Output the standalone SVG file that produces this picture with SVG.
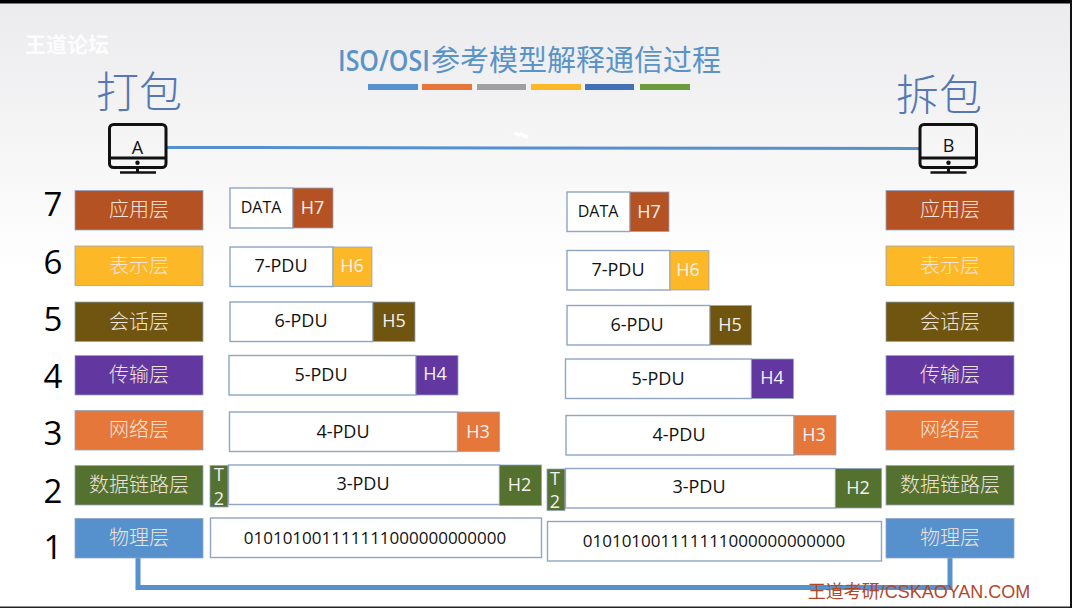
<svg xmlns="http://www.w3.org/2000/svg" width="1072" height="608" viewBox="0 0 1072 608">
<style>
.s{font-family:"Noto Sans CJK SC","Noto Sans",sans-serif}
.o{font-family:"Open Sans","Noto Sans",sans-serif}
.l{font-size:20px;fill:#f0e4d8;text-anchor:middle;font-family:"Noto Sans CJK SC",sans-serif;font-weight:300}
.n{font-size:33px;fill:#000;text-anchor:middle;font-family:"Open Sans",sans-serif}
.b{fill:#fff;stroke:#8ea6c4;stroke-width:1.4}
.t{font-size:18px;fill:#111;text-anchor:middle;font-family:"Open Sans",sans-serif}
.d{font-size:17px;fill:#111;text-anchor:middle;font-family:"Open Sans",sans-serif}
.h{font-size:18px;fill:#f2f2f2;text-anchor:middle;font-family:"Open Sans",sans-serif}
.c{fill:none;stroke:#5691ce}
.m{fill:none;stroke:#111;stroke-width:3}
.a{stroke:#8ea6c4;stroke-width:.8}
.big{font-size:43px;fill:#5578b4;text-anchor:middle;font-family:"Noto Sans CJK SC",serif;font-weight:300}
</style>
<defs><linearGradient id="bg" x1="0" y1="0" x2="0" y2="1"><stop offset="0" stop-color="#ebebed"/><stop offset=".25" stop-color="#f6f6f7"/><stop offset=".45" stop-color="#fff"/><stop offset="1" stop-color="#fff"/></linearGradient></defs>
<rect width="1072" height="608" fill="url(#bg)"/>
<rect width="1072" height="3.500" fill="#000"/>
<rect y="606.500" width="1072" height="1.500" fill="#222"/>
<rect x="1070" width="2" height="608" fill="#111"/>
<g id="watermark"><text x="67" y="52" class="s" font-size="21" fill="#fff" fill-opacity=".85" text-anchor="middle" font-weight="700">王道论坛</text></g>
<g id="title">
<text transform="translate(338 71) scale(1 1.12)" class="o" font-size="25" fill="#5a93c8" font-weight="600">ISO/OSI</text>
<text x="431" y="71" class="s" font-size="29" fill="#5a93c8">参考模型解释通信过程</text>
<rect x="368" y="84" width="50" height="6" fill="#5691ce"/><rect x="422" y="84" width="50" height="6" fill="#e5773a"/><rect x="477" y="84" width="49" height="6" fill="#a0a0a0"/><rect x="531" y="84" width="50" height="6" fill="#fdb827"/><rect x="585" y="84" width="49" height="6" fill="#4371b8"/><rect x="640" y="84" width="50" height="6" fill="#6c9c3c"/>
</g>
<text x="139" y="108" class="big">打包</text>
<text x="939" y="111" class="big">拆包</text>
<g id="connectors">
<path class="c" d="M166 147.500 L920 148.500" stroke-width="3"/>
<path class="c" d="M138 558 V587.500 H950 V558" stroke-width="5"/>
</g>
<path d="M514 132l6 1 1-1 8 4-2 3-7-3-1 1-5-3z" fill="#fff"/>
<g id="hostA"><rect class="m" x="109.500" y="124.500" width="56.500" height="43" rx="4"/><path class="m" d="M109.500 158H166M137.500 168V172" /><path d="M120 172.500H156" fill="none" stroke="#111" stroke-width="2.500"/><circle cx="137.500" cy="162.800" r="2.200" fill="#111"/><text x="137.500" y="154" class="o" font-size="18" fill="#111" text-anchor="middle">A</text></g>
<g id="hostB"><rect class="m" x="920" y="124.500" width="56.500" height="43" rx="4"/><path class="m" d="M920 158H976.500M948.500 168V172"/><path d="M930.500 172.500H966.500" fill="none" stroke="#111" stroke-width="2.500"/><circle cx="948.500" cy="162.800" r="2.200" fill="#111"/><text x="948.500" y="151.500" class="o" font-size="18" fill="#111" text-anchor="middle">B</text></g>
<g id="numbers">
<text x="53" y="216" class="n">7</text><text x="53" y="274" class="n">6</text><text x="53" y="331" class="n">5</text><text x="53" y="388" class="n">4</text><text x="53" y="445" class="n">3</text><text x="53" y="503" class="n">2</text><text x="53" y="559" class="n">1</text>
</g>
<g id="left-stack">
<g id="l7"><rect class="a" x="75" y="190.500" width="128" height="39.500" fill="#b55223"/><text class="l" x="139" y="217">应用层</text></g>
<g id="l6"><rect class="a" x="75" y="246" width="128" height="39.500" fill="#fdb827"/><text class="l" x="139" y="273">表示层</text></g>
<g id="l5"><rect class="a" x="75" y="302" width="128" height="39.500" fill="#6f5510"/><text class="l" x="139" y="329">会话层</text></g>
<g id="l4"><rect class="a" x="75" y="355.500" width="128" height="39.500" fill="#6237a0"/><text class="l" x="139" y="382">传输层</text></g>
<g id="l3"><rect class="a" x="75" y="410.500" width="128" height="39.500" fill="#e5773a"/><text class="l" x="139" y="437">网络层</text></g>
<g id="l2"><rect class="a" x="75" y="465.500" width="128" height="39.500" fill="#55712f"/><text class="l" x="139" y="492">数据链路层</text></g>
<g id="l1"><rect class="a" x="75" y="518.500" width="128" height="39.500" fill="#5691ce"/><text class="l" x="139" y="545">物理层</text></g>
</g>
<g id="right-stack">
<g id="r7"><rect class="a" x="886" y="190.500" width="128" height="39.500" fill="#b55223"/><text class="l" x="950" y="217">应用层</text></g>
<g id="r6"><rect class="a" x="886" y="246" width="128" height="39.500" fill="#fdb827"/><text class="l" x="950" y="273">表示层</text></g>
<g id="r5"><rect class="a" x="886" y="302" width="128" height="39.500" fill="#6f5510"/><text class="l" x="950" y="329">会话层</text></g>
<g id="r4"><rect class="a" x="886" y="355.500" width="128" height="39.500" fill="#6237a0"/><text class="l" x="950" y="382">传输层</text></g>
<g id="r3"><rect class="a" x="886" y="410.500" width="128" height="39.500" fill="#e5773a"/><text class="l" x="950" y="437">网络层</text></g>
<g id="r2"><rect class="a" x="886" y="465.500" width="128" height="39.500" fill="#55712f"/><text class="l" x="950" y="492">数据链路层</text></g>
<g id="r1"><rect class="a" x="886" y="518.500" width="128" height="39.500" fill="#5691ce"/><text class="l" x="950" y="545">物理层</text></g>
</g>
<g id="pdu-left">
<g id="al7"><rect class="b" x="230" y="188" width="63" height="40"/><rect class="a" x="293" y="188" width="40" height="40" fill="#b55223"/><text class="t" x="261" y="213" style="font-size:16px">DATA</text><text class="h" x="312.500" y="214">H7</text></g>
<g id="al6"><rect class="b" x="230" y="247" width="103" height="39.500"/><rect class="a" x="333" y="247" width="39" height="39.500" fill="#fdb827"/><text class="t" x="281" y="272">7-PDU</text><text class="h" x="352" y="272">H6</text></g>
<g id="al5"><rect class="b" x="230" y="302" width="143" height="39.500"/><rect class="a" x="373" y="302" width="42" height="39.500" fill="#6f5510"/><text class="t" x="301" y="327">6-PDU</text><text class="h" x="394" y="327">H5</text></g>
<g id="al4"><rect class="b" x="229" y="355.500" width="187" height="39.500"/><rect class="a" x="416" y="355.500" width="42" height="39.500" fill="#6237a0"/><text class="t" x="321" y="381">5-PDU</text><text class="h" x="435" y="380">H4</text></g>
<g id="al3"><rect class="b" x="229.500" y="412" width="228" height="39.500"/><rect class="a" x="457.500" y="412" width="42" height="39.500" fill="#e5773a"/><text class="t" x="343" y="438">4-PDU</text><text class="h" x="478" y="438">H3</text></g>
<g id="al2"><rect class="a" x="210" y="465.500" width="18" height="41.500" fill="#55712f"/><rect class="b" x="228.500" y="465" width="271" height="39.500"/><rect class="a" x="499.500" y="465" width="42" height="40.500" fill="#55712f"/><text class="t" x="363" y="490">3-PDU</text><text class="h" x="519.500" y="491">H2</text><text class="h" x="219" y="481">T</text><text class="h" x="219" y="505">2</text></g>
<g id="al1"><rect class="b" x="210.500" y="518" width="331" height="39.500"/><text class="d" x="375" y="544">010101001111111000000000000</text></g>
</g>
<g id="pdu-right">
<g id="ar7"><rect class="b" x="567" y="192" width="63" height="39.500"/><rect class="a" x="630" y="192" width="39" height="39.500" fill="#b55223"/><text class="t" x="598" y="217" style="font-size:16px">DATA</text><text class="h" x="649" y="218">H7</text></g>
<g id="ar6"><rect class="b" x="567" y="250.500" width="103" height="39.500"/><rect class="a" x="670" y="250.500" width="39" height="39.500" fill="#fdb827"/><text class="t" x="618" y="276">7-PDU</text><text class="h" x="688" y="276">H6</text></g>
<g id="ar5"><rect class="b" x="567" y="305.500" width="143" height="39.500"/><rect class="a" x="710" y="305.500" width="41.500" height="39.500" fill="#6f5510"/><text class="t" x="637" y="331">6-PDU</text><text class="h" x="730" y="331">H5</text></g>
<g id="ar4"><rect class="b" x="565.500" y="359" width="186" height="39.500"/><rect class="a" x="751.500" y="359" width="42" height="39.500" fill="#6237a0"/><text class="t" x="658" y="385">5-PDU</text><text class="h" x="772" y="384">H4</text></g>
<g id="ar3"><rect class="b" x="566" y="415.500" width="228" height="39.500"/><rect class="a" x="794" y="415.500" width="42" height="39.500" fill="#e5773a"/><text class="t" x="679" y="441">4-PDU</text><text class="h" x="814" y="441">H3</text></g>
<g id="ar2"><rect class="a" x="547" y="469" width="18" height="41.500" fill="#55712f"/><rect class="b" x="565.500" y="468.500" width="270" height="39.500"/><rect class="a" x="835.500" y="468.500" width="46" height="39.500" fill="#55712f"/><text class="t" x="699" y="493">3-PDU</text><text class="h" x="858" y="494">H2</text><text class="h" x="555" y="485">T</text><text class="h" x="555" y="508">2</text></g>
<g id="ar1"><rect class="b" x="547.500" y="521.500" width="334" height="39.500"/><text class="d" x="714" y="547">010101001111111000000000000</text></g>
</g>
<text id="credit" x="919" y="598" font-family="'Liberation Sans','Noto Sans CJK SC',sans-serif" font-size="18" fill="#b0492c" text-anchor="middle">王道考研/CSKAOYAN.COM</text>
</svg>
